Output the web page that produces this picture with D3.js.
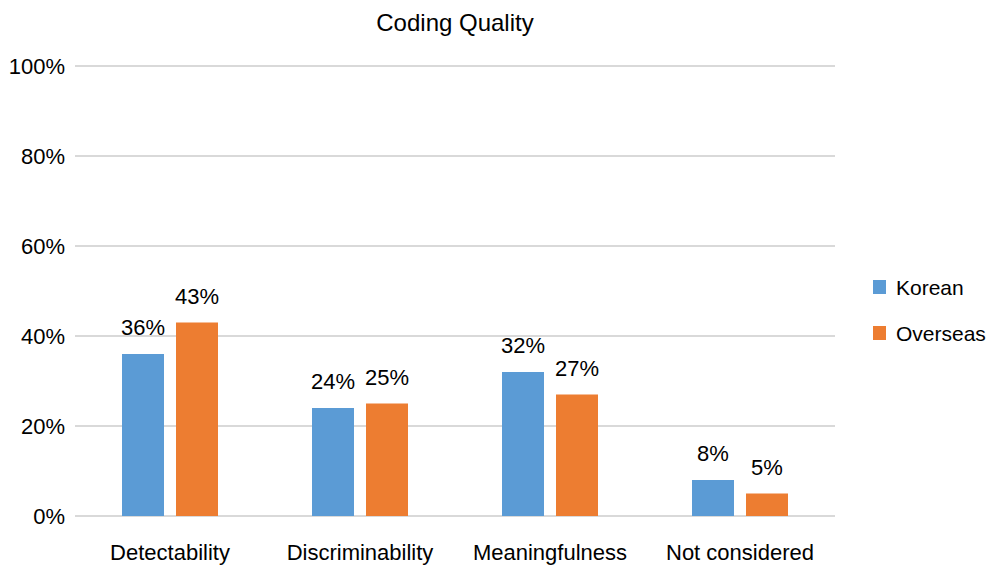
<!DOCTYPE html>
<html><head><meta charset="utf-8">
<script src="https://d3js.org/d3.v7.min.js"></script>
<style>body{margin:0;background:#fff;} text{font-family:"Liberation Sans",Arial,sans-serif;fill:#000;}</style>
</head><body>
<svg id="c" width="990" height="565"></svg>
<script>
const categories = ["Detectability","Discriminability","Meaningfulness","Not considered"];
const seriesNames = ["Korean","Overseas"];
const korean = [36,24,32,8];
const overseas = [43,25,27,5];
const yTicks = [0,20,40,60,80,100];
const colors = ["#5B9BD5","#ED7D31"];

(function(){
const svg = d3.select("#c");
const pLeft=75, pRight=835, pTop=66, pBottom=516;
const x = d3.scaleBand().domain(categories).range([pLeft,pRight]);
const xs = d3.scaleBand().domain(seriesNames).range([-48, 48]).paddingInner(12/54);
const y = d3.scaleLinear().domain([0,100]).range([pBottom,pTop]);

svg.append("text").attr("x",455).attr("y",31).attr("text-anchor","middle").style("font-size","24px").text("Coding Quality");

svg.selectAll(".grid").data(yTicks).enter().append("line")
  .attr("x1",pLeft).attr("x2",pRight).attr("y1",d=>y(d)).attr("y2",d=>y(d))
  .attr("stroke","#d9d9d9").attr("stroke-width",2);
svg.selectAll(".yl").data(yTicks).enter().append("text")
  .attr("x",65).attr("y",d=>y(d)+8).attr("text-anchor","end").style("font-size","22px").text(d=>d+"%");

const data = [korean, overseas];
seriesNames.forEach((s,si)=>{
  const g = svg.append("g");
  g.selectAll("rect").data(categories).enter().append("rect")
    .attr("x",(c)=>x(c)+x.bandwidth()/2+xs(s)).attr("width",xs.bandwidth())
    .attr("y",(c,i)=>y(data[si][i])).attr("height",(c,i)=>pBottom-y(data[si][i]))
    .attr("fill",colors[si]);
  g.selectAll("text").data(categories).enter().append("text")
    .attr("x",(c)=>x(c)+x.bandwidth()/2+xs(s)+xs.bandwidth()/2)
    .attr("y",(c,i)=>y(data[si][i])-19).attr("text-anchor","middle").style("font-size","22px")
    .text((c,i)=>data[si][i]+"%");
});

svg.selectAll(".xl").data(categories).enter().append("text")
  .attr("x",c=>x(c)+x.bandwidth()/2).attr("y",560).attr("text-anchor","middle").style("font-size","22px").text(c=>c);

seriesNames.forEach((s,i)=>{
  const yy = 287 + i*46;
  svg.append("rect").attr("x",873).attr("y",yy-7).attr("width",13).attr("height",14).attr("fill",colors[i]);
  svg.append("text").attr("x",896).attr("y",yy+8).style("font-size","21px").text(s);
});
})();
</script>
</body></html>
